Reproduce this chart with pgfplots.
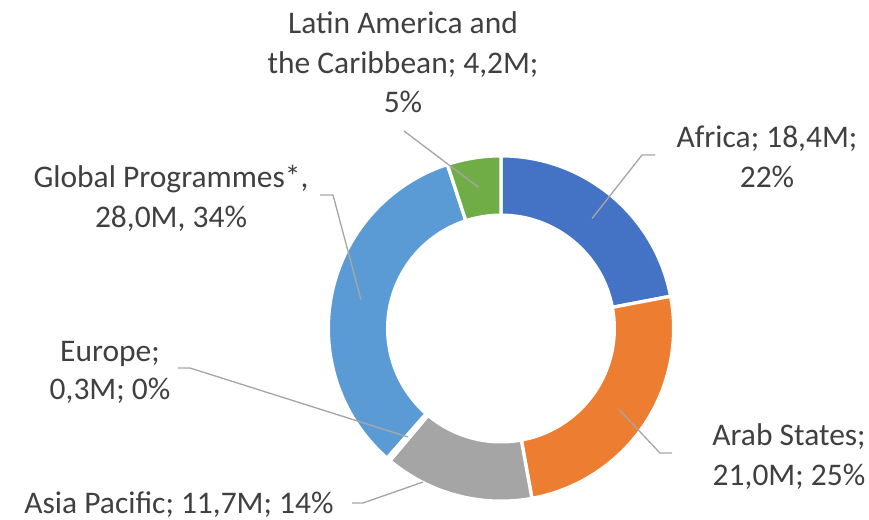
\documentclass[border=0pt]{standalone}
\usepackage{fontspec}
\setmainfont{Carlito}
\usepackage{pgfplots}
\usepackage{pgfplotstable}
\pgfplotsset{compat=1.18}
\usetikzlibrary{calc}
\definecolor{cAfr}{HTML}{4472C4}
\definecolor{cArab}{HTML}{ED7D31}
\definecolor{cAsia}{HTML}{A5A5A5}
\definecolor{cEur}{HTML}{FFFFFF}
\definecolor{cGlob}{HTML}{5B9BD5}
\definecolor{cLat}{HTML}{70AD47}
\definecolor{lead}{HTML}{A6A6A6}
\definecolor{txt}{HTML}{404040}

\pgfplotstableread{
region value
Africa 18.4
Arab 21.0
Asia 11.7
Europe 0.3
Global 28.0
LatAm 4.2
}\datatable

\newcommand\sector[3]{%
  \fill[#3, draw=white, line width=2.5pt]
    ($(C)+(#1:\rout)$) arc[start angle=#1, end angle=#2, radius=\rout]
    -- ($(C)+(#2:\rin)$) arc[start angle=#2, end angle=#1, radius=\rin] -- cycle;}

\begin{document}
\begin{tikzpicture}
\pgfplotstablegetelem{0}{value}\of\datatable \let\vA\pgfplotsretval
\pgfplotstablegetelem{1}{value}\of\datatable \let\vB\pgfplotsretval
\pgfplotstablegetelem{2}{value}\of\datatable \let\vC\pgfplotsretval
\pgfplotstablegetelem{3}{value}\of\datatable \let\vD\pgfplotsretval
\pgfplotstablegetelem{4}{value}\of\datatable \let\vE\pgfplotsretval
\pgfplotstablegetelem{5}{value}\of\datatable \let\vF\pgfplotsretval
\pgfmathsetmacro\tot{\vA+\vB+\vC+\vD+\vE+\vF}
\pgfmathsetmacro\aA{90}
\pgfmathsetmacro\aB{\aA-360*\vA/\tot}
\pgfmathsetmacro\aC{\aB-360*\vB/\tot}
\pgfmathsetmacro\aD{\aC-360*\vC/\tot}
\pgfmathsetmacro\aE{\aD-360*\vD/\tot}
\pgfmathsetmacro\aF{\aE-360*\vE/\tot}
\pgfmathsetmacro\aG{\aF-360*\vF/\tot}
\pgfmathsetmacro\mA{(\aA+\aB)/2}
\pgfmathsetmacro\mB{(\aB+\aC)/2}
\pgfmathsetmacro\mD{(\aD+\aE)/2}
\pgfmathsetmacro\mE{(\aE+\aF)/2}
\pgfmathsetmacro\mF{(\aF+\aG)/2}
\def\rout{129.5pt}
\def\rin{85pt}
\def\rmid{107.25pt}
\begin{axis}[hide axis, scale only axis, width=651.75pt, height=389.25pt,
  xmin=0, xmax=869, ymin=0, ymax=519, y dir=reverse, clip=false]
\path (axis cs:0,0) rectangle (axis cs:869,519);
\coordinate (C) at (axis cs:501,328.5);
\sector{\aA}{\aB}{cAfr}
\sector{\aB}{\aC}{cArab}
\sector{\aC}{\aD}{cAsia}
\sector{\aD}{\aE}{cEur}
\sector{\aE}{\aF}{cGlob}
\sector{\aF}{\aG}{cLat}
% leader lines
\draw[lead, line width=1pt] ($(C)+(\mA:\rmid)$) -- (axis cs:642,155) -- (axis cs:655,155);
\draw[lead, line width=1pt] ($(C)+(\mB:\rmid)$) -- (axis cs:660,453) -- (axis cs:672,453);
\draw[lead, line width=1pt] (axis cs:423,482) -- (axis cs:363,503) -- (axis cs:352,503);
\draw[lead, line width=1pt] ($(C)+(\mD:\rmid)$) -- (axis cs:190,368) -- (axis cs:178,368);
\draw[lead, line width=1pt] ($(C)+(\mE:\rmid)$) -- (axis cs:333,195) -- (axis cs:320,195);
\draw[lead, line width=1pt] ($(C)+(\mF:\rmid)$) -- (axis cs:404,131);
% labels
\tikzset{lbl/.style={anchor=base, inner sep=0pt, text=txt, font=\fontsize{23.6}{30}\selectfont}}
\node[lbl] at (axis cs:403,33) {Latin America and};
\node[lbl] at (axis cs:403,73) {the Caribbean; 4,2M;};
\node[lbl] at (axis cs:403,112) {5\%};
\node[lbl] at (axis cs:767,147) {Africa; 18,4M;};
\node[lbl] at (axis cs:767,187) {22\%};
\node[lbl] at (axis cs:171,187) {Global Programmes*,};
\node[lbl] at (axis cs:171,227) {28,0M, 34\%};
\node[lbl] at (axis cs:110,361) {Europe;};
\node[lbl] at (axis cs:110,399) {0,3M; 0\%};
\node[lbl] at (axis cs:789,445) {Arab States;};
\node[lbl] at (axis cs:789,485) {21,0M; 25\%};
\node[lbl] at (axis cs:179,513) {Asia Pacific; 11,7M; 14\%};
\end{axis}
\end{tikzpicture}
\end{document}
